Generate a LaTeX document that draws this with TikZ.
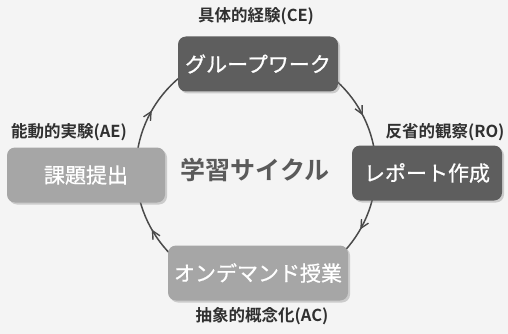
\documentclass[tikz,border=0pt]{standalone}
\usepackage{fontspec}
\setmainfont{Noto Sans CJK JP}
\newfontfamily\jpb{Noto Sans CJK JP Bold}
\newfontfamily\jpm[FakeBold=0.8]{Noto Sans CJK JP}
\usetikzlibrary{arrows.meta,shadows,decorations.markings}
\definecolor{bg}{HTML}{F4F4F4}
\definecolor{darkbox}{HTML}{5E5E5E}
\definecolor{lightbox}{HTML}{A6A6A6}
\definecolor{labelc}{HTML}{303030}
\definecolor{ringc}{HTML}{4A4A4A}
\definecolor{centerc}{HTML}{5A5A5A}
\begin{document}
\begin{tikzpicture}[x=1pt,y=-1pt,
  stagebox/.style={rounded corners=8pt, minimum height=55pt, text=white,
    font=\jpm\fontsize{21}{24}\selectfont, inner sep=0pt,
    drop shadow={shadow xshift=2pt, shadow yshift=-2pt, opacity=0.35}},
  darkstage/.style={stagebox, fill=darkbox},
  lightstage/.style={stagebox, fill=lightbox},
  stagelabel/.style={text=labelc, font=\jpb\fontsize{16.5}{19}\selectfont, inner sep=0pt},
  ring/.style={draw=ringc, line width=1.5pt},
  tipmark/.style={postaction={decorate, decoration={markings,
    mark=at position #1 with {\arrow{Straight Barb[length=8pt,width=8pt,line width=1.4pt]}}}}}
]
\fill[bg] (0,0) rectangle (508,334);
\useasboundingbox (0,0) rectangle (508,334);
\coordinate (c) at (256,170);
% ring arcs (clockwise on the page): top -> right -> bottom -> left -> top
\draw[ring, tipmark=0.7] (c) ++(-90:120) arc[start angle=-90, end angle=0, radius=120];
\draw[ring, tipmark=0.33] (c) ++(0:120) arc[start angle=0, end angle=90, radius=120];
\draw[ring, tipmark=0.67] (c) ++(90:120) arc[start angle=90, end angle=180, radius=120];
\draw[ring, tipmark=0.33] (c) ++(180:120) arc[start angle=180, end angle=270, radius=120];
% boxes
\node[darkstage, minimum width=160pt] (ce) at (258,64) {グループワーク};
\node[darkstage, minimum width=150pt] (ro) at (427,173) {レポート作成};
\node[lightstage, minimum width=158pt] (ae) at (86,175) {課題提出};
\node[lightstage, minimum width=180pt] (ac) at (258,273) {オンデマンド授業};
% labels
\node[stagelabel] (lce) at (256,16) {具体的経験(CE)};
\node[stagelabel] (lro) at (445,132) {反省的観察(RO)};
\node[stagelabel] (lae) at (69,132) {能動的実験(AE)};
\node[stagelabel] (lac) at (262,316) {抽象的概念化(AC)};
% center
\node[text=centerc, font=\jpb\fontsize{25}{29}\selectfont, inner sep=0pt] (center) at (255,170) {学習サイクル};
\end{tikzpicture}
\end{document}
